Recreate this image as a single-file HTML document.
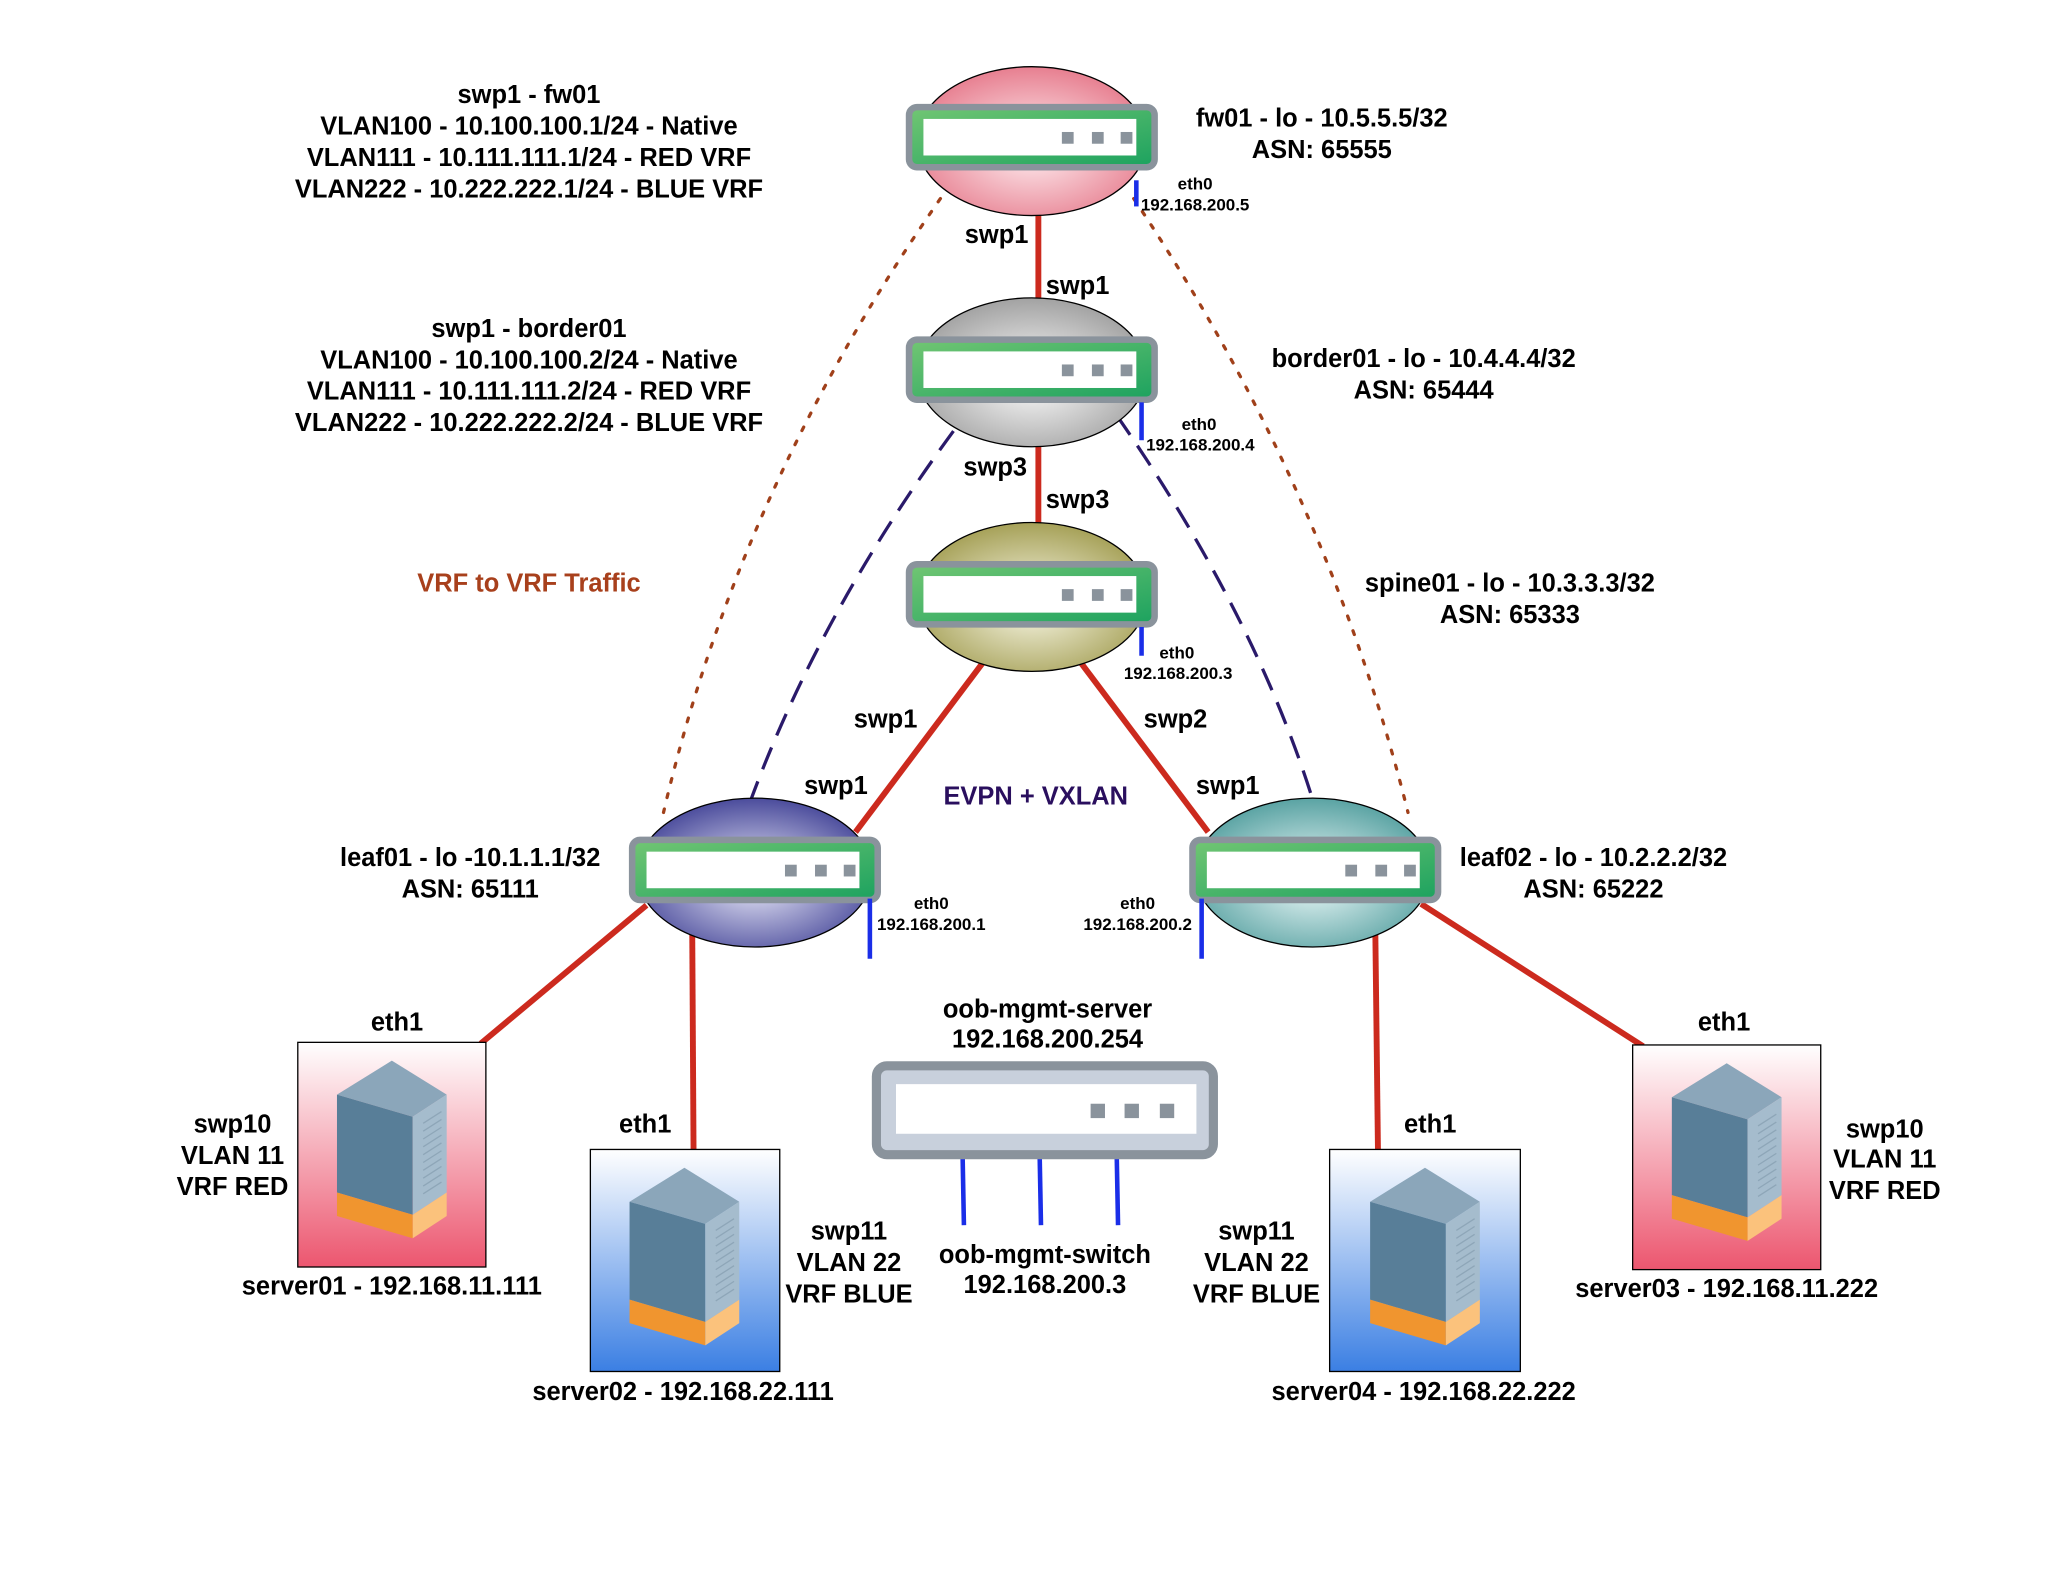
<!DOCTYPE html>
<html><head><meta charset="utf-8"><style>
html,body{margin:0;padding:0;background:#fff;}
svg{display:block;}
text{font-family:"Liberation Sans",Arial,sans-serif;font-weight:bold;fill:#000;}
.l{font-size:19.5px;text-anchor:middle;}
.s{font-size:13px;text-anchor:middle;}
</style></head><body>
<svg width="2048" height="1574" viewBox="0 0 1568 1205" xmlns="http://www.w3.org/2000/svg">
<defs>
<radialGradient id="gPink" cx="50%" cy="55%" r="55%"><stop offset="0" stop-color="#fff2f4"/><stop offset="1" stop-color="#e77f90"/></radialGradient>
<radialGradient id="gGray" cx="50%" cy="55%" r="55%"><stop offset="0" stop-color="#ffffff"/><stop offset="1" stop-color="#a2a2a2"/></radialGradient>
<radialGradient id="gOlive" cx="50%" cy="55%" r="55%"><stop offset="0" stop-color="#fbfaea"/><stop offset="1" stop-color="#a6a158"/></radialGradient>
<radialGradient id="gBlue" cx="50%" cy="55%" r="55%"><stop offset="0" stop-color="#f0f0fc"/><stop offset="1" stop-color="#4b4c9c"/></radialGradient>
<radialGradient id="gTeal" cx="50%" cy="55%" r="55%"><stop offset="0" stop-color="#f2fcfc"/><stop offset="1" stop-color="#5aa3a3"/></radialGradient>
<linearGradient id="gGreen" x1="0" y1="0" x2="1" y2="1"><stop offset="0" stop-color="#72c673"/><stop offset="1" stop-color="#1ca25f"/></linearGradient>
<linearGradient id="gRed" x1="0" y1="0" x2="0" y2="1"><stop offset="0" stop-color="#ffffff"/><stop offset="1" stop-color="#ec566f"/></linearGradient>
<linearGradient id="gBl" x1="0" y1="0" x2="0" y2="1"><stop offset="0" stop-color="#ffffff"/><stop offset="1" stop-color="#3b7fe3"/></linearGradient>
<g id="sw">
<rect x="0" y="0" width="188" height="46" rx="6" fill="url(#gGreen)" stroke="#8a939c" stroke-width="5"/>
<rect x="11" y="9" width="163" height="28" fill="#fff"/>
<rect x="117" y="19" width="9" height="9" fill="#8a939c"/>
<rect x="140" y="19" width="9" height="9" fill="#8a939c"/>
<rect x="162" y="19" width="9" height="9" fill="#8a939c"/>
</g>
<g id="srv">
<polygon points="30,40 72,14 114,40 88,57" fill="#8ba6ba"/>
<polygon points="30,40 88,57 88,132 30,115" fill="#587e98"/>
<polygon points="88,57 114,40 114,115 88,132" fill="#a5bccd"/>
<g stroke="#8ea6b8" stroke-width="1">
<line x1="96" y1="62" x2="110" y2="53"/><line x1="96" y1="68" x2="110" y2="59"/><line x1="96" y1="74" x2="110" y2="65"/><line x1="96" y1="80" x2="110" y2="71"/><line x1="96" y1="86" x2="110" y2="77"/><line x1="96" y1="92" x2="110" y2="83"/><line x1="96" y1="98" x2="110" y2="89"/><line x1="96" y1="104" x2="110" y2="95"/><line x1="96" y1="110" x2="110" y2="101"/><line x1="96" y1="116" x2="110" y2="107"/>
</g>
<polygon points="30,115 88,132 88,150 30,133" fill="#f0952f"/>
<polygon points="88,132 114,115 114,133 88,150" fill="#fbc27c"/>
</g>
</defs>

<path d="M720,152 Q566,373 508,622" fill="none" stroke="#a0401a" stroke-width="2.5" stroke-dasharray="3 9" stroke-linecap="round"/>
<path d="M868,152 Q1016,373 1078,622" fill="none" stroke="#a0401a" stroke-width="2.5" stroke-dasharray="3 9" stroke-linecap="round"/>
<path d="M730,330 Q628,469 575,612" fill="none" stroke="#2a1a6a" stroke-width="2.5" stroke-dasharray="18 10"/>
<path d="M855,318 Q960,469 1005,612" fill="none" stroke="#2a1a6a" stroke-width="2.5" stroke-dasharray="18 10"/>

<g stroke="#cc2a1e" stroke-width="4.5">
<line x1="795" y1="160" x2="795" y2="232"/>
<line x1="795" y1="338" x2="795" y2="402"/>
<line x1="752" y1="508" x2="655" y2="637"/>
<line x1="828" y1="508" x2="925" y2="637"/>
<line x1="495" y1="693" x2="368" y2="799"/>
<line x1="530" y1="715" x2="531" y2="881"/>
<line x1="1053" y1="715" x2="1055" y2="881"/>
<line x1="1088" y1="692" x2="1258" y2="801"/>
</g>

<ellipse cx="790" cy="108" rx="88" ry="57" fill="url(#gPink)" stroke="#000" stroke-width="1"/>
<use href="#sw" x="696" y="82"/>
<ellipse cx="790" cy="285" rx="88" ry="57" fill="url(#gGray)" stroke="#000" stroke-width="1"/>
<use href="#sw" x="696" y="260"/>
<ellipse cx="790" cy="457" rx="88" ry="57" fill="url(#gOlive)" stroke="#000" stroke-width="1"/>
<use href="#sw" x="696" y="432"/>
<ellipse cx="578" cy="668" rx="90" ry="57" fill="url(#gBlue)" stroke="#000" stroke-width="1"/>
<use href="#sw" x="484" y="643"/>
<ellipse cx="1005" cy="668" rx="90" ry="57" fill="url(#gTeal)" stroke="#000" stroke-width="1"/>
<use href="#sw" x="913" y="643"/>

<g stroke="#1a2ee8" stroke-width="3.5">
<line x1="870" y1="138" x2="870" y2="158"/>
<line x1="874" y1="308" x2="874" y2="337"/>
<line x1="874" y1="480" x2="874" y2="502"/>
<line x1="666" y1="688" x2="666" y2="734"/>
<line x1="920" y1="688" x2="920" y2="734"/>
<line x1="737" y1="885" x2="738" y2="938"/>
<line x1="796" y1="885" x2="797" y2="938"/>
<line x1="855" y1="885" x2="856" y2="938"/>
</g>

<rect x="671" y="816" width="258" height="68" rx="8" fill="#c8d0dc" stroke="#8a939c" stroke-width="7"/>
<rect x="686" y="830" width="230" height="38" fill="#fff"/>
<rect x="835" y="845" width="11" height="11" fill="#8a939c"/>
<rect x="861" y="845" width="11" height="11" fill="#8a939c"/>
<rect x="888" y="845" width="11" height="11" fill="#8a939c"/>

<rect x="228" y="798" width="144" height="172" fill="url(#gRed)" stroke="#000" stroke-width="1"/>
<use href="#srv" x="228" y="798"/>
<rect x="452" y="880" width="145" height="170" fill="url(#gBl)" stroke="#000" stroke-width="1"/>
<use href="#srv" x="452" y="880"/>
<rect x="1018" y="880" width="146" height="170" fill="url(#gBl)" stroke="#000" stroke-width="1"/>
<use href="#srv" x="1019" y="880"/>
<rect x="1250" y="800" width="144" height="172" fill="url(#gRed)" stroke="#000" stroke-width="1"/>
<use href="#srv" x="1250" y="800"/>

<text class="l" x="405" y="79">swp1 - fw01</text>
<text class="l" x="405" y="103">VLAN100 - 10.100.100.1/24 - Native</text>
<text class="l" x="405" y="127">VLAN111 - 10.111.111.1/24 - RED VRF</text>
<text class="l" x="405" y="151">VLAN222 - 10.222.222.1/24 - BLUE VRF</text>
<text class="l" x="405" y="258">swp1 - border01</text>
<text class="l" x="405" y="282">VLAN100 - 10.100.100.2/24 - Native</text>
<text class="l" x="405" y="306">VLAN111 - 10.111.111.2/24 - RED VRF</text>
<text class="l" x="405" y="330">VLAN222 - 10.222.222.2/24 - BLUE VRF</text>
<text class="l" x="405" y="453" style="fill:#a8401c">VRF to VRF Traffic</text>

<text class="l" x="1012" y="97">fw01 - lo - 10.5.5.5/32</text>
<text class="l" x="1012" y="121">ASN: 65555</text>
<text class="l" x="1090" y="281">border01 - lo - 10.4.4.4/32</text>
<text class="l" x="1090" y="305">ASN: 65444</text>
<text class="l" x="1156" y="453">spine01 - lo - 10.3.3.3/32</text>
<text class="l" x="1156" y="477">ASN: 65333</text>
<text class="l" x="360" y="663">leaf01 - lo -10.1.1.1/32</text>
<text class="l" x="360" y="687">ASN: 65111</text>
<text class="l" x="1220" y="663">leaf02 - lo - 10.2.2.2/32</text>
<text class="l" x="1220" y="687">ASN: 65222</text>

<text class="l" x="763" y="186">swp1</text>
<text class="l" x="825" y="225">swp1</text>
<text class="l" x="762" y="364">swp3</text>
<text class="l" x="825" y="389">swp3</text>
<text class="l" x="678" y="557">swp1</text>
<text class="l" x="900" y="557">swp2</text>
<text class="l" x="640" y="608">swp1</text>
<text class="l" x="940" y="608">swp1</text>
<text class="l" x="793" y="616" style="fill:#2a0f5e">EVPN + VXLAN</text>

<text class="s" x="915" y="145">eth0</text>
<text class="s" x="915" y="161">192.168.200.5</text>
<text class="s" x="918" y="329">eth0</text>
<text class="s" x="919" y="345">192.168.200.4</text>
<text class="s" x="901" y="504">eth0</text>
<text class="s" x="902" y="520">192.168.200.3</text>
<text class="s" x="713" y="696">eth0</text>
<text class="s" x="713" y="712">192.168.200.1</text>
<text class="s" x="871" y="696">eth0</text>
<text class="s" x="871" y="712">192.168.200.2</text>

<text class="l" x="802" y="779">oob-mgmt-server</text>
<text class="l" x="802" y="802">192.168.200.254</text>
<text class="l" x="800" y="967">oob-mgmt-switch</text>
<text class="l" x="800" y="990">192.168.200.3</text>

<text class="l" x="304" y="789">eth1</text>
<text class="l" x="178" y="867">swp10</text>
<text class="l" x="178" y="891">VLAN 11</text>
<text class="l" x="178" y="915">VRF RED</text>
<text class="l" x="300" y="991">server01 - 192.168.11.111</text>

<text class="l" x="494" y="867">eth1</text>
<text class="l" x="650" y="949">swp11</text>
<text class="l" x="650" y="973">VLAN 22</text>
<text class="l" x="650" y="997">VRF BLUE</text>
<text class="l" x="523" y="1072">server02 - 192.168.22.111</text>

<text class="l" x="1095" y="867">eth1</text>
<text class="l" x="962" y="949">swp11</text>
<text class="l" x="962" y="973">VLAN 22</text>
<text class="l" x="962" y="997">VRF BLUE</text>
<text class="l" x="1090" y="1072">server04 - 192.168.22.222</text>

<text class="l" x="1320" y="789">eth1</text>
<text class="l" x="1443" y="871">swp10</text>
<text class="l" x="1443" y="894">VLAN 11</text>
<text class="l" x="1443" y="918">VRF RED</text>
<text class="l" x="1322" y="993">server03 - 192.168.11.222</text>
</svg>
</body></html>
